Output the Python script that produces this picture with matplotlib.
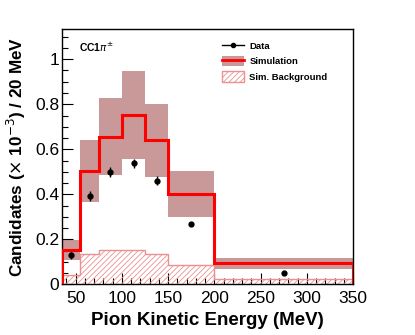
import numpy as np
import matplotlib
matplotlib.use("Agg")
import matplotlib.pyplot as plt
from matplotlib.patches import Patch
from matplotlib.lines import Line2D
from matplotlib.ticker import MultipleLocator

# bin edges (MeV)
edges = [35, 55, 75, 100, 125, 150, 200, 350]
# simulation central value and uncertainty band
sim = [0.152, 0.505, 0.656, 0.752, 0.641, 0.403, 0.093]
sim_lo = [0.108, 0.364, 0.487, 0.556, 0.476, 0.300, 0.068]
sim_hi = [0.197, 0.641, 0.827, 0.948, 0.803, 0.505, 0.116]
# simulated background
bkg = [0.041, 0.135, 0.152, 0.152, 0.133, 0.086, 0.022]
# data points
data_x = [45, 65, 87.5, 112.5, 137.5, 175, 275]
data_y = [0.130, 0.392, 0.498, 0.537, 0.460, 0.268, 0.052]
data_err = [0.015, 0.022, 0.022, 0.020, 0.020, 0.010, 0.004]

plt.rcParams['font.family'] = ['Liberation Sans', 'DejaVu Sans']
plt.rcParams['hatch.linewidth'] = 0.6

band_col = '#c99898'
hatch_col = '#ee8f8f'

fig = plt.figure(figsize=(4.15, 3.35), dpi=100)
ax = fig.add_axes([0.149, 0.151, 0.702, 0.761])

edges = np.array(edges)
widths = np.diff(edges)
lo = np.array(sim_lo)
hi = np.array(sim_hi)

# uncertainty band
ax.bar(edges[:-1], hi - lo, width=widths, bottom=lo, align='edge',
       color=band_col, linewidth=0, zorder=1)
# background hatch
ax.stairs(bkg, edges, fill=True, facecolor='none', edgecolor=hatch_col,
          hatch='//////', linewidth=0, zorder=2)
ax.stairs(bkg, edges, color=hatch_col, linewidth=1.0, zorder=2)
# simulation line
ax.stairs(sim, edges, color='red', linewidth=2.2, zorder=3)
# data
ax.errorbar(data_x, data_y, yerr=data_err, fmt='o', color='black',
            markersize=3.5, elinewidth=1, capsize=0, zorder=4)

ax.set_xlim(35, 350)
ax.set_ylim(0, 1.132)
ax.xaxis.set_major_locator(MultipleLocator(50))
ax.xaxis.set_minor_locator(MultipleLocator(10))
ax.yaxis.set_major_locator(MultipleLocator(0.2))
ax.yaxis.set_minor_locator(MultipleLocator(0.05))
ax.yaxis.set_major_formatter(plt.FuncFormatter(lambda v, p: '%g' % round(v, 2)))
ax.tick_params(which='both', direction='in', top=False, right=False, labelsize=12.5)
ax.tick_params(which='major', length=8, width=0.8)
ax.tick_params(which='minor', length=4, width=0.8)
ax.tick_params(axis='x', pad=5)
ax.tick_params(axis='y', pad=2)
for s in ax.spines.values():
    s.set_linewidth(1.0)

ax.set_xlabel('Pion Kinetic Energy (MeV)', fontsize=13.5, fontweight='bold')
ax.set_ylabel(r'Candidates ($\times$ 10$^{-3}$) / 20 MeV', fontsize=12.3,
              fontweight='bold', labelpad=5)
ax.text(0.06, 0.955, r'CC1$\pi^{\pm}$', transform=ax.transAxes,
        fontsize=7.5, fontweight='bold', va='top')

h_data = Line2D([0], [0], color='black', marker='o', markersize=3, lw=1)
h_sim = (Patch(facecolor=band_col, edgecolor='none'),
         Line2D([0], [0], color='red', lw=2))
h_bkg = Patch(facecolor='none', edgecolor=hatch_col, hatch='//////')
ax.legend([h_data, h_sim, h_bkg], ['Data', 'Simulation', 'Sim. Background'],
          loc='upper left', bbox_to_anchor=(0.55, 0.957), frameon=False,
          borderpad=0, borderaxespad=0,
          prop={'size': 6.8, 'weight': 'bold'}, handlelength=2.3,
          handleheight=1.3, labelspacing=0.55, handletextpad=0.6)

fig.savefig('out.png', dpi=100)
